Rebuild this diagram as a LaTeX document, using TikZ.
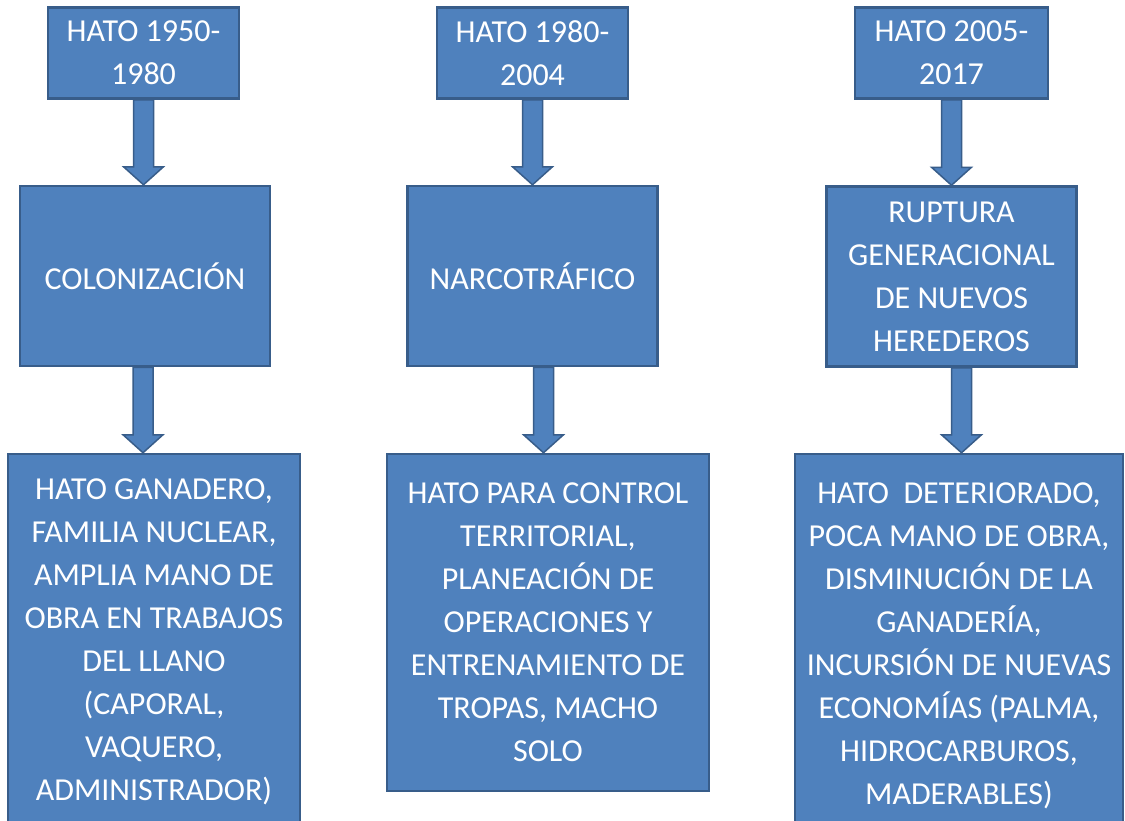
\documentclass[tikz,border=0pt]{standalone}
\usepackage{fontspec}
\setmainfont{Carlito}
\usepackage{tikz}
\usetikzlibrary{positioning,backgrounds,calc}
\definecolor{boxblue}{RGB}{79,129,189}
\definecolor{boxedge}{RGB}{56,93,138}

\begin{document}
\begin{tikzpicture}[x=1pt, y=-1pt, line join=miter]
		\tikzstyle{every box}=[draw=boxedge, fill=boxblue, line width=2.5pt,
		text=white, align=center, inner sep=0pt, font=\fontsize{32}{43}\selectfont]
		\tikzstyle{period}=[every box, minimum width=191pt, minimum height=91pt]
		\tikzstyle{cause}=[every box, minimum width=250pt, minimum height=180pt]
		\tikzstyle{blockarrow}=[fill=boxblue, draw=boxedge, line width=1.5pt,
		to path={let \p1=(\tikztostart), \p2=(\tikztotarget) in
			({\x1-10pt},\y1) -- ({\x1-10pt},{\y2+18pt}) -- ({\x1-20pt},{\y2+18pt})
			-- (\x1,\y2) -- ({\x1+20pt},{\y2+18pt}) -- ({\x1+10pt},{\y2+18pt})
			-- ({\x1+10pt},\y1) -- cycle}]
		\clip (0,0) rectangle (1125,820);
		\begin{scope}
			\node[period] (p1) at (143.5,53) {HATO 1950-\\1980};
			\node[period] (p2) at (532.5,53) {HATO 1980-\\2004};
			\node[period, minimum width=193pt] (p3) at (951.5,53) {HATO 2005-\\2017};

			\node[cause] (c1) at (145,276) {COLONIZACIÓN};
			\node[cause] (c2) at (532.5,276) {NARCOTRÁFICO};
			\node[cause] (c3) at (951.5,276.5) {RUPTURA\\GENERACIONAL\\DE NUEVOS\\HEREDEROS};

			\node[every box, minimum width=292pt, minimum height=376pt] (h1) at
			(154,642) {HATO GANADERO,\\FAMILIA NUCLEAR,\\AMPLIA MANO DE\\OBRA EN TRABAJOS\\DEL LLANO\\(CAPORAL,\\VAQUERO,\\ADMINISTRADOR)};
			\node[every box, minimum width=322pt, minimum height=337pt] (h2) at
			(548,622.5) {HATO PARA CONTROL\\TERRITORIAL,\\PLANEACIÓN DE\\OPERACIONES Y\\ENTRENAMIENTO DE\\TROPAS, MACHO\\SOLO};
			\node[every box, minimum width=328pt, minimum height=384pt] (h3) at
			(959,646) {HATO\ \ DETERIORADO,\\POCA MANO DE OBRA,\\DISMINUCIÓN DE LA\\GANADERÍA,\\INCURSIÓN DE NUEVAS\\ECONOMÍAS (PALMA,\\HIDROCARBUROS,\\MADERABLES)};
		\end{scope}

		\begin{scope}[on background layer]
			\fill[white] (0,0) rectangle (1125,820);
			\draw[blockarrow] (p1.south) to (c1.north); \draw[blockarrow]
			(p2.south) to (c2.north); \draw[blockarrow] (p3.south) to (c3.north);
			\draw[blockarrow] ([xshift=-2pt]c1.south) to (h1.north);
			\draw[blockarrow] ([xshift=11pt]c2.south) to (h2.north);
			\draw[blockarrow] ([xshift=10pt]c3.south) to (h3.north);
		\end{scope}
	\end{tikzpicture}
\end{document}
